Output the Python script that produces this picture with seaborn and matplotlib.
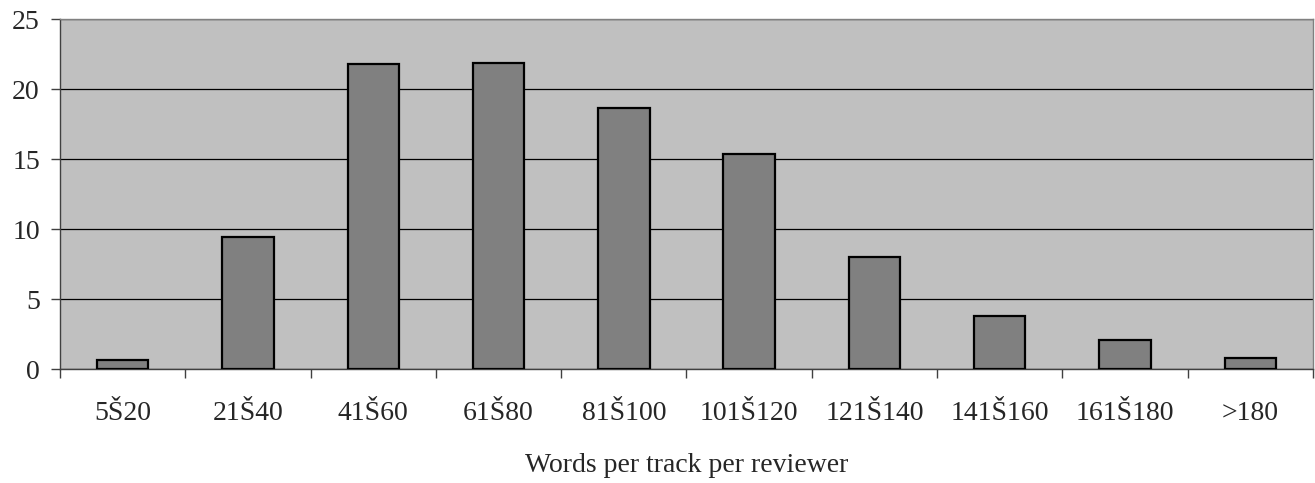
import matplotlib
matplotlib.use("Agg")
import matplotlib.pyplot as plt
import seaborn as sns
import pandas as pd
import numpy as np

# Data
categories = ["5Š20", "21Š40", "41Š60", "61Š80", "81Š100",
              "101Š120", "121Š140", "141Š160", "161Š180", ">180"]
values = [0.64, 9.47, 21.8, 21.9, 18.7, 15.36, 8.04, 3.8, 2.07, 0.83]
y_ticks = [0, 5, 10, 15, 20, 25]
x_label = "Words per track per reviewer"

df = pd.DataFrame({"bin": categories, "value": values})

sns.set_style("white")
plt.rcParams['font.family'] = ['Liberation Serif', 'DejaVu Serif']

fig = plt.figure(figsize=(13.15, 4.83), dpi=100)
ax = fig.add_axes([60 / 1315, 1 - 369.3 / 483, 1253 / 1315, 350 / 483])
ax.set_facecolor("#C0C0C0")

sns.barplot(data=df, x="bin", y="value", order=categories, color="#808080",
            saturation=1, width=0.41, edgecolor="black", linewidth=1.6,
            ax=ax, zorder=3)

ax.set_ylim(0, 25)
ax.set_xlim(-0.5, len(categories) - 0.5)
ax.set_yticks(y_ticks)
ax.yaxis.grid(True, color="black", linewidth=0.9, zorder=1)
ax.set_axisbelow(True)

# category boundary ticks below the axis
ax.set_xticks(np.arange(-0.5, len(categories), 1.0), minor=True)
ax.tick_params(axis="x", which="major", length=0, pad=23, labelsize=20)
ax.tick_params(axis="x", which="minor", length=6.5, width=1.0, color="#404040",
               direction="out", bottom=True)
ax.tick_params(axis="y", length=6.5, width=1.0, color="#404040", direction="out",
               pad=8, labelsize=20, left=True)

for side in ["left", "bottom"]:
    ax.spines[side].set_color("#404040")
    ax.spines[side].set_linewidth(1.0)
for side in ["top", "right"]:
    ax.spines[side].set_visible(True)
    ax.spines[side].set_color("#808080")
    ax.spines[side].set_linewidth(1.0)

ax.set_ylabel("")
ax.set_xlabel(x_label, fontsize=20, labelpad=19)

fig.savefig("out.png", dpi=100)
